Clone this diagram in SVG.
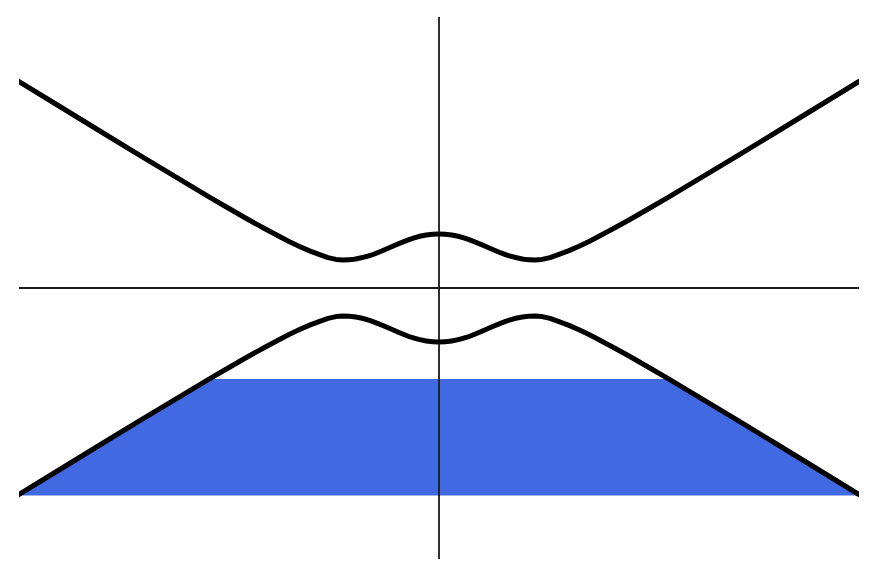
<svg xmlns="http://www.w3.org/2000/svg" width="877" height="577" viewBox="0 0 877 577">
  <defs>
    <clipPath id="plot"><rect x="19" y="0" width="840" height="577"/></clipPath>
    <style>
      .axis { stroke: #1a1a1a; stroke-width: 1.8; fill: none; }
      .band { stroke: #000; stroke-width: 5; fill: none; stroke-linejoin: round; }
    </style>
  </defs>
  <rect width="877" height="577" fill="#fff"/>
  <path id="filled" d="M19,495.5 L59,470 L99,445.5 L139,421.2 L179,397.1 L209,379 L669,379 L699,397.1 L739,421.2 L779,445.5 L819,470 L859,495.5 Z" fill="#4169e1"/>
  <g id="axes">
    <line class="axis" x1="439" y1="17" x2="439" y2="559"/>
    <line class="axis" x1="19" y1="288" x2="859" y2="288"/>
  </g>
  <g id="bands" clip-path="url(#plot)">
    <path id="upper" class="band" d="M9,75.3 L19,81.5 L59,106 L99,130.5 L139,154.8 L179,178.9 L209,196.8 L229,208.5 L249,220 L264,228.3 L279,236.3 L289,241.4 L299,246.2 L309,250.6 L319,254.4 L328,257.6 L336,259.4 L343,260 C381,260 401,234 439,234 C477,234 497,260 535,260 L542,259.4 L550,257.6 L559,254.4 L569,250.6 L579,246.2 L589,241.4 L599,236.3 L614,228.3 L629,220 L649,208.5 L669,196.8 L699,178.9 L739,154.8 L779,130.5 L819,106 L859,81.5 L869,75.3"/>
    <path id="lower" class="band" d="M9,500.7 L19,494.5 L59,470 L99,445.5 L139,421.2 L179,397.1 L209,379.2 L229,367.5 L249,356 L264,347.7 L279,339.7 L289,334.6 L299,329.8 L309,325.4 L319,321.6 L328,318.4 L336,316.6 L343,316 C381,316 401,342 439,342 C477,342 497,316 535,316 L542,316.6 L550,318.4 L559,321.6 L569,325.4 L579,329.8 L589,334.6 L599,339.7 L614,347.7 L629,356 L649,367.5 L669,379.2 L699,397.1 L739,421.2 L779,445.5 L819,470 L859,494.5 L869,500.7"/>
  </g>
</svg>
